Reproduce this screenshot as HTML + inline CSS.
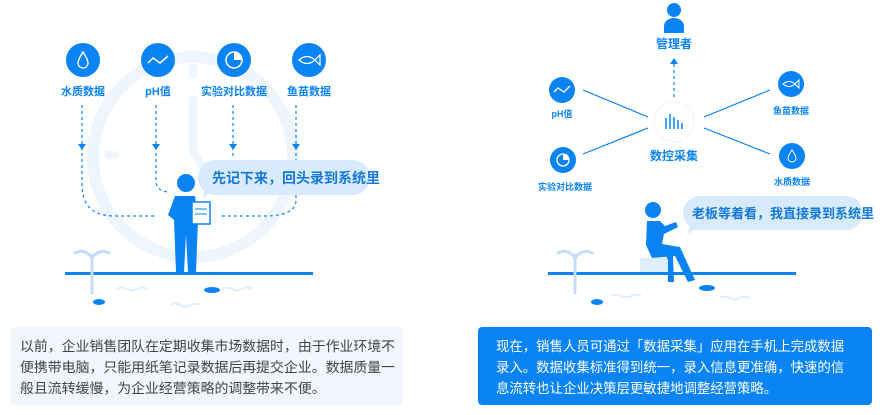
<!DOCTYPE html>
<html><head><meta charset="utf-8"><style>
body{margin:0;width:880px;height:415px;background:#fff;overflow:hidden;position:relative;font-family:"Liberation Sans","Noto Sans CJK SC",sans-serif}
.box{position:absolute;top:327px;height:78px;box-sizing:border-box;border-radius:4px;line-height:21px;padding:9px 0 0 0;white-space:nowrap}
svg text{font-family:"Liberation Sans","Noto Sans CJK SC",sans-serif;font-weight:bold}
</style></head><body>
<svg width="880" height="415" style="position:absolute;left:0;top:0">
<circle cx="193" cy="157" r="100" fill="none" stroke="#eef5fd" stroke-width="12"/>
<line x1="193" y1="68" x2="193" y2="75" stroke="#eef5fd" stroke-width="8" stroke-linecap="round"/>
<path d="M193 100 V150 L205 170" fill="none" stroke="#eef5fd" stroke-width="8" stroke-linecap="round"/>
<line x1="108" y1="155" x2="115" y2="155" stroke="#eef5fd" stroke-width="8" stroke-linecap="round"/>
<g fill="#0a84f5">
<circle cx="83" cy="60" r="17"/><circle cx="158" cy="60" r="17"/><circle cx="234" cy="60" r="17"/><circle cx="309" cy="60" r="17"/>
</g>
<path d="M83 52 C80 57 78 60 78 63 A5 5 0 0 0 88 63 C88 60 86 57 83 52Z" fill="none" stroke="#fff" stroke-width="1.3"/>
<polyline points="148,63 153,58 160,63 168,56" fill="none" stroke="#fff" stroke-width="1.5"/>
<circle cx="234" cy="60" r="8" fill="none" stroke="#fff" stroke-width="1.5"/><path d="M234 52 A8 8 0 0 1 242 60 H234Z" fill="#fff"/>
<path d="M299 60 Q307 53 315 60 Q307 67 299 60Z M315 60 L320 55 V65Z" fill="none" stroke="#fff" stroke-width="1.2"/>
<g font-size="11" fill="#0a84f5" text-anchor="middle">
<text x="83" y="95">水质数据</text><text x="158" y="95">pH值</text><text x="234" y="95">实验对比数据</text><text x="309" y="95">鱼苗数据</text>
</g>
<g fill="none" stroke="#0a84f5" stroke-width="1.2" stroke-dasharray="3,3">
<path d="M82 105 V185 Q82 216 115 216 H155"/>
<path d="M156 105 V180 Q156 192 170 192"/>
<path d="M233 105 V157"/>
<path d="M296 105 V200 Q296 216 265 216 H220"/>
</g>
<g fill="#0a84f5">
<path d="M78 144 H86 L82 150Z"/><path d="M152 144 H160 L156 150Z"/><path d="M229 144 H237 L233 150Z"/><path d="M292 144 H300 L296 150Z"/>
</g>
<rect x="198" y="160" width="172" height="35" rx="17" fill="#d8ebfc"/>
<path d="M205 185 L203 198 L214 190Z" fill="#d8ebfc"/>
<text x="212" y="183" font-size="14" fill="#1479d8">先记下来，回头录到系统里</text>
<g fill="#0a84f5">
<circle cx="186" cy="183" r="9"/>
<path d="M175 196 H195 L198 220 L196 272 H188 L186 235 L184 272 H176 L174 220 L168 215Z"/>
</g>
<rect x="192" y="202" width="18" height="22" fill="#fff" stroke="#0a84f5" stroke-width="1.5"/>
<line x1="195" y1="209" x2="207" y2="209" stroke="#0a84f5"/><line x1="195" y1="214" x2="207" y2="214" stroke="#0a84f5"/>
<rect x="65" y="272" width="248" height="3" fill="#0a84f5"/>
<path d="M92 293 V255 M92 258 Q85 248 75 253 M92 258 Q100 248 109 253" fill="none" stroke="#c6dcf7" stroke-width="3" stroke-linecap="round"/>
<path d="M117 289 q5 -3 10 0 q5 3 10 0 q5-3 10 0 M170 305 q5-3 10 0 q5 3 10 0 q5-3 10 0 M222 289 q5-3 10 0 q5 3 10 0 q5-3 10 0" fill="none" stroke="#e0edfb" stroke-width="2"/>
<ellipse cx="99" cy="302" rx="6" ry="3" fill="#0a84f5"/><ellipse cx="212" cy="290" rx="8" ry="3" fill="#0a84f5"/>

<circle cx="674" cy="10" r="7" fill="#0a84f5"/><path d="M664 33 V26 A10 8 0 0 1 684 26 V33Z" fill="#0a84f5"/>
<text x="674" y="48" font-size="12" fill="#0a84f5" text-anchor="middle">管理者</text>
<line x1="674" y1="97" x2="674" y2="64" stroke="#0a84f5" stroke-width="1.2" stroke-dasharray="3,3"/>
<path d="M670 64 H678 L674 58Z" fill="#0a84f5"/>
<circle cx="674" cy="122" r="20" fill="#fff" stroke="#eef3fa"/>
<g stroke="#0a84f5" stroke-width="1.5"><line x1="666" y1="118" x2="666" y2="129"/><line x1="670" y1="114" x2="670" y2="129"/><line x1="674" y1="117" x2="674" y2="129"/><line x1="678" y1="120" x2="678" y2="129"/><line x1="682" y1="123" x2="682" y2="129"/></g>
<text x="674" y="160" font-size="12" fill="#0a84f5" text-anchor="middle">数控采集</text>
<g stroke="#0a84f5" stroke-width="1.2"><line x1="583" y1="90" x2="648" y2="117"/><line x1="583" y1="154" x2="648" y2="128"/><line x1="770" y1="90" x2="704" y2="117"/><line x1="770" y1="154" x2="704" y2="128"/></g>
<g fill="#0a84f5"><circle cx="562" cy="90" r="13"/><circle cx="563" cy="160" r="13"/><circle cx="791" cy="84" r="13"/><circle cx="792" cy="156" r="13"/></g>
<polyline points="554,92 558,88 564,92 570,86" fill="none" stroke="#fff" stroke-width="1.3"/>
<circle cx="563" cy="160" r="6" fill="none" stroke="#fff" stroke-width="1.3"/><path d="M563 154 A6 6 0 0 1 569 160 H563Z" fill="#fff"/>
<path d="M783 84 Q789 79 795 84 Q789 89 783 84Z M795 84 L799 80 V88Z" fill="none" stroke="#fff" stroke-width="1"/>
<path d="M792 150 C790 153 788 156 788 158 A4 4 0 0 0 796 158 C796 156 794 153 792 150Z" fill="none" stroke="#fff" stroke-width="1"/>
<g font-size="9" fill="#0a84f5" text-anchor="middle"><text x="562" y="117">pH值</text><text x="565" y="190">实验对比数据</text><text x="791" y="114">鱼苗数据</text><text x="792" y="185">水质数据</text></g>
<rect x="683" y="196" width="180" height="34" rx="17" fill="#d8ebfc"/>
<path d="M690 222 L688 234 L699 226Z" fill="#d8ebfc"/>
<text x="692" y="218" font-size="13" fill="#1479d8">老板等着看，我直接录到系统里</text>
<rect x="640" y="258" width="28" height="15" fill="#e0edfb"/>
<g fill="#0a84f5">
<circle cx="653" cy="210" r="8"/>
<path d="M647 221 H660 L665 226 L676 222 L678 227 L664 234 L662 244 L680 247 L695 280 L688 282 L675 256 L652 258 L646 245Z"/>
<path d="M660 244 L668 260 L668 282 L674 282 L673 256Z"/>
</g>
<rect x="548" y="272" width="248" height="3" fill="#0a84f5"/>
<path d="M575 293 V255 M575 258 Q568 248 558 253 M575 258 Q583 248 592 253" fill="none" stroke="#c6dcf7" stroke-width="3" stroke-linecap="round"/>
<path d="M611 296 q5-3 10 0 q5 3 10 0 q5-3 10 0 M720 298 q5-3 10 0 q5 3 10 0 q5-3 10 0" fill="none" stroke="#e0edfb" stroke-width="2"/>
<ellipse cx="597" cy="302" rx="6" ry="3" fill="#0a84f5"/><ellipse cx="707" cy="288" rx="8" ry="3" fill="#0a84f5"/>
</svg>
<div class="box" style="left:10px;width:393px;background:#f1f6fd;color:#444;font-size:13.9px;padding-left:10px">以前，企业销售团队在定期收集市场数据时，由于作业环境不<br>便携带电脑，只能用纸笔记录数据后再提交企业。数据质量一<br>般且流转缓慢，为企业经营策略的调整带来不便。</div>
<div class="box" style="left:478px;width:394px;background:#0a84f5;color:#fff;font-size:13.4px;padding-left:18px">现在，销售人员可通过「数据采集」应用在手机上完成数据<br>录入。数据收集标准得到统一，录入信息更准确，快速的信<br>息流转也让企业决策层更敏捷地调整经营策略。</div>
</body></html>
